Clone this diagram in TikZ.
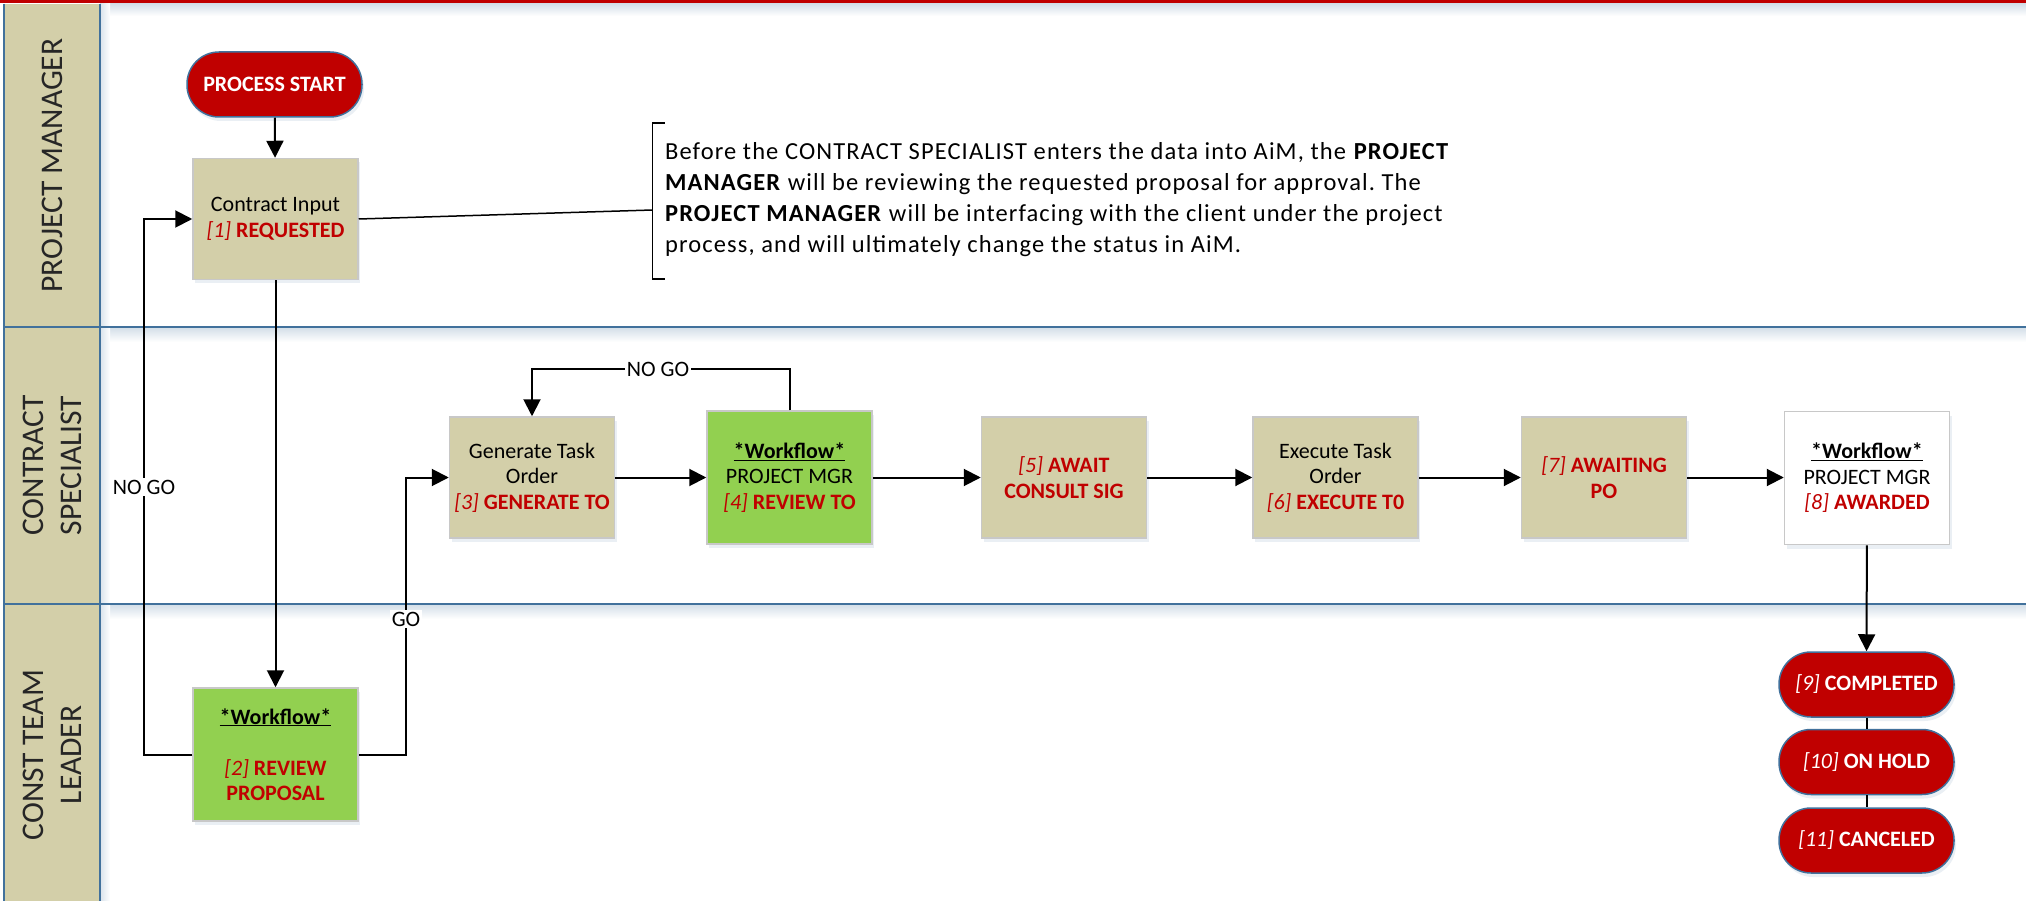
\documentclass[tikz,border=0pt]{standalone}
\usepackage{fontspec}
\setmainfont{Carlito}
\newfontfamily\notefam[LetterSpace=4.5]{Carlito}
\usetikzlibrary{arrows.meta,shadows}
\frenchspacing
\definecolor{boxtan}{HTML}{D3CFA9}
\definecolor{wfgreen}{HTML}{92D050}
\definecolor{stred}{HTML}{C00000}
\definecolor{laneblue}{HTML}{41719C}
\definecolor{boxgray}{HTML}{C8C8C8}
\definecolor{lanetext}{HTML}{262626}
\newcommand{\boxfont}{\fontsize{22}{25.5}\selectfont}
\newcommand{\notefont}{\notefam\fontsize{24.5}{31}\selectfont}
\newcommand{\lanefont}{\fontsize{31.5}{38}\selectfont}
\newcommand{\stat}[2]{{\color{stred}\textit{#1} \textbf{#2}}}
\newcommand{\redb}[1]{{\color{stred}\textbf{#1}}}
\tikzset{
  boxshadow/.style={drop shadow={shadow xshift=2pt, shadow yshift=-4pt, opacity=0.22, fill=laneblue!50}},
  proc/.style={rectangle, draw=boxgray, line width=1.5pt, fill=boxtan, minimum width=165pt,
    minimum height=121pt, inner sep=0pt, align=center, font=\boxfont, boxshadow},
  wf/.style={proc, fill=wfgreen, minimum height=133pt},
  term/.style={rectangle, rounded corners=32pt, draw=laneblue, line width=1.5pt, fill=stred,
    minimum width=175pt, minimum height=65pt, text=white, font=\boxfont, inner sep=0pt, boxshadow},
  conn/.style={line width=2pt, black},
  arr/.style={conn, -{Triangle[length=17pt,width=17pt]}},
  lbl/.style={fill=white, inner sep=1.5pt, font=\boxfont},
  lanelbl/.style={rotate=90, font=\lanefont, text=lanetext, align=center},
}
\begin{document}
\begin{tikzpicture}[x=1pt,y=-1pt]
\useasboundingbox (0,0) rectangle (2026,901);
\fill[white] (0,0) rectangle (2026,901);
% lanes
\fill[boxtan] (4,4) rectangle (100,901);
\shade[top color=laneblue!22, bottom color=white] (100,4) rectangle (2026,16);
\shade[top color=laneblue!22, bottom color=white] (100,328) rectangle (2026,342);
\shade[top color=laneblue!22, bottom color=white] (100,605) rectangle (2026,619);
\shade[left color=laneblue!18, right color=white] (101,4) rectangle (110,901);
\draw[laneblue, line width=2pt] (4,4) -- (4,901);
\draw[laneblue, line width=2pt] (100,4) -- (100,901);
\draw[laneblue, line width=2pt] (4,327) -- (2026,327);
\draw[laneblue, line width=2pt] (4,604) -- (2026,604);
\fill[stred] (0,0) rectangle (2026,3.5);
\node[lanelbl] (lane1) at (52,165.5) {PROJECT MANAGER};
\node[lanelbl] (lane2) at (52,465.5) {CONTRACT\\SPECIALIST};
\node[lanelbl] (lane3) at (52,755) {CONST TEAM\\LEADER};
% nodes
\node[term] (start) at (274.5,84.5) {\textbf{PROCESS START}};
\node[proc] (ci) at (275.5,219) {Contract Input\\\stat{[1]}{REQUESTED}};
\node[wf] (rp) at (275.5,754.5) {\underline{\textbf{*Workflow*}}\\[25.5pt]\stat{[2]}{REVIEW}\\\redb{PROPOSAL}};
\node[proc] (gen) at (532,477.5) {Generate Task\\Order\\\stat{[3]}{GENERATE TO}};
\node[wf] (rev) at (789.5,477.5) {\underline{\textbf{*Workflow*}}\\PROJECT MGR\\\stat{[4]}{REVIEW TO}};
\node[proc] (aw) at (1064,477.5) {\stat{[5]}{AWAIT}\\\redb{CONSULT SIG}};
\node[proc] (ex) at (1335.5,477.5) {Execute Task\\Order\\\stat{[6]}{EXECUTE T0}};
\node[proc] (po) at (1604,477.5) {\stat{[7]}{AWAITING}\\\redb{PO}};
\node[wf, fill=white] (awd) at (1867,478) {\underline{\textbf{*Workflow*}}\\PROJECT MGR\\\stat{[8]}{AWARDED}};
\node[term] (c9) at (1866.5,684.5) {\textit{[9]} \textbf{COMPLETED}};
\node[term] (c10) at (1866.5,762) {\textit{[10]} \textbf{ON HOLD}};
\node[term] (c11) at (1866.5,840.5) {\textit{[11]} \textbf{CANCELED}};
% annotation
\node[anchor=north west, align=left, font=\notefont, inner sep=0pt] (note) at (665,142.5)
 {Before the CONTRACT SPECIALIST enters the data into AiM, the \textbf{PROJECT}\\
  \textbf{MANAGER} will be reviewing the requested proposal for approval. The\\
  \textbf{PROJECT MANAGER} will be interfacing with the client under the project\\
  process, and will ultimately change the status in AiM.};
\coordinate (bt) at (652.5,123);
\coordinate (bb) at (652.5,279);
\coordinate (bm) at (652.5,210);
\draw[conn, line width=1.5pt] ([xshift=12pt]bt) -- (bt) -- (bb) -- ([xshift=12pt]bb);
\draw[conn, line width=1.5pt] (ci.east) -- (bm);
% connectors
\draw[arr] (start) -- (ci);
\draw[arr] (ci) -- (rp);
\coordinate (nx) at (144,0);
\draw[arr] (rp.west) -- (rp.west -| nx) -- (ci.west -| nx) -- (ci.west);
\node[lbl] (nogo1) at (144,487) {NO GO};
\coordinate (gx) at (406,0);
\draw[arr] (rp.east) -- (rp.east -| gx) -- (gen.west -| gx) -- (gen.west);
\node[lbl] (go) at (406,619) {GO};
\coordinate (ly) at (0,369);
\draw[arr] (rev.north) -- (rev.north |- ly) -- (gen.north |- ly) -- (gen.north);
\node[lbl] (nogo2) at (658,369) {NO GO};
\draw[arr] (gen.east) -- (rev.west |- gen.east);
\draw[arr] (rev.east |- aw.west) -- (aw.west);
\draw[arr] (aw.east) -- (ex.west);
\draw[arr] (ex.east) -- (po.west);
\draw[arr] (po.east) -- (awd.west |- po.east);
\draw[arr] (awd) -- (c9);
\draw[conn] (c9) -- (c10);
\draw[conn] (c10) -- (c11);
\end{tikzpicture}
\end{document}
